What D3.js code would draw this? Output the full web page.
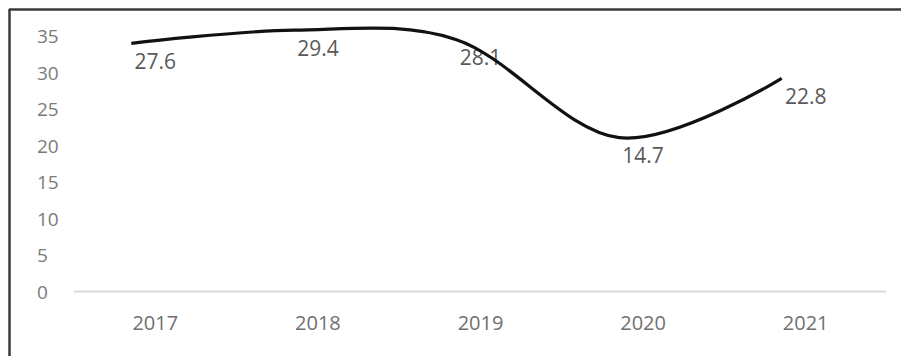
<!DOCTYPE html>
<html>
<head>
<meta charset="utf-8">
<script src="https://cdn.jsdelivr.net/npm/d3@7/dist/d3.min.js"></script>
<style>
  html, body { margin: 0; padding: 0; background: #fff; }
  svg { display: block; }
  text { font-family: "Open Sans", "Liberation Sans", sans-serif; fill: #666; }
</style>
</head>
<body>
<svg id="chart" width="901" height="356"></svg>
<script>
// Annual values shown on the chart
const years = ["2017", "2018", "2019", "2020", "2021"];
const values = [27.6, 29.4, 28.1, 14.7, 22.8];
const yTicks = [0, 5, 10, 15, 20, 25, 30, 35];

// The plotted line sits 6.4 units above the printed axis, as in the original figure
const lineOffset = 6.4;

const svg = d3.select("#chart");
const W = 901, H = 356;

const plot = { left: 74, right: 887, top: 36, bottom: 292 };

// Category axis
const x = d3.scaleBand().domain(years).range([plot.left, plot.right]);
const xc = d => x(d) + x.bandwidth() / 2;

// Value axis (printed)
const yAxis = d3.scaleLinear().domain([0, 35]).range([plot.bottom, plot.top]);
// Value scale used for the line
const y = d3.scaleLinear().domain([-lineOffset, 35 - lineOffset]).range([plot.bottom, plot.top]);

// Frame: top and left edges
svg.append("line").attr("x1", 9).attr("x2", W).attr("y1", 9.5).attr("y2", 9.5)
  .attr("stroke", "#3a3a3a").attr("stroke-width", 2.5);
svg.append("line").attr("x1", 9.5).attr("x2", 9.5).attr("y1", 9).attr("y2", H)
  .attr("stroke", "#3a3a3a").attr("stroke-width", 2.5);

// Y tick labels
svg.append("g").selectAll("text").data(yTicks).join("text")
  .attr("x", 37).attr("y", d => yAxis(d))
  .attr("dominant-baseline", "central")
  .attr("font-size", 19)
  .style("fill", "#7a7a7a")
  .text(d => d);

// Baseline
svg.append("line")
  .attr("x1", plot.left).attr("x2", plot.right - 1)
  .attr("y1", yAxis(0) - 0.5).attr("y2", yAxis(0) - 0.5)
  .attr("stroke", "#d9d9d9").attr("stroke-width", 2);

// X tick labels
svg.append("g").selectAll("text").data(years).join("text")
  .attr("x", d => xc(d)).attr("y", 322)
  .attr("text-anchor", "middle").attr("dominant-baseline", "central")
  .attr("font-size", 20)
  .style("fill", "#707070")
  .text(d => d);

const data = years.map((yr, i) => ({ yr, v: values[i] }));
const lineShift = -24;

// Data labels
svg.append("g").selectAll("text").data(data).join("text")
  .attr("x", d => xc(d.yr)).attr("y", d => y(d.v) + 17.5)
  .attr("text-anchor", "middle").attr("dominant-baseline", "central")
  .attr("font-size", 21)
  .style("fill", "#5a5a5a")
  .text(d => d.v.toFixed(1));

// Smoothed line
const line = d3.line()
  .x(d => xc(d.yr) + lineShift)
  .y(d => y(d.v))
  .curve(d3.curveCardinal.tension(0));

svg.append("path").datum(data)
  .attr("d", line)
  .attr("fill", "none")
  .attr("stroke", "#111")
  .attr("stroke-width", 3.2)
  .attr("stroke-linecap", "butt");
</script>
</body>
</html>
